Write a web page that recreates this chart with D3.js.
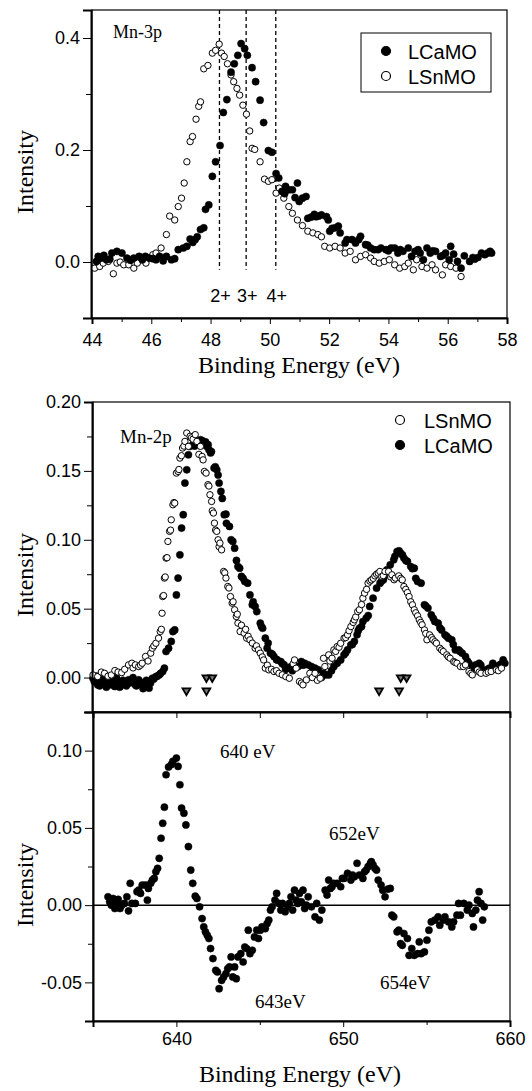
<!DOCTYPE html>
<html>
<head>
<meta charset="utf-8">
<script src="https://cdn.jsdelivr.net/npm/d3@7"></script>
<style>
body { margin:0; background:#fff; }
.tick text { font-family:"Liberation Sans", Arial, sans-serif; font-size:18px; fill:#000; }
.serif { font-family:"Liberation Serif", "Times New Roman", serif; fill:#000; }
.sans { font-family:"Liberation Sans", Arial, sans-serif; fill:#000; }
</style>
</head>
<body>
<div class="chart"></div>
<script>
// ---- Mn-3p (top panel): [binding energy eV, intensity]
const mn3pLCaMO = [[44.15,0.001],[44.21,0.010],[44.32,0.007],[44.4,0.012],[44.49,0.004],[44.6,0.005],[44.67,0.016],[44.84,0.019],[45.01,0.016],[45.18,0.007],[45.3,0.003],[45.41,0.007],[45.59,0.010],[45.70,0.004],[45.8,0.010],[45.93,0.007],[46.05,0.006],[46.16,0.004],[46.28,0.010],[46.4,0.002],[46.51,0.010],[46.68,0.004],[46.79,0.006],[46.91,0.022],[47.08,0.025],[47.20,0.028],[47.31,0.041],[47.4,0.035],[47.48,0.040],[47.55,0.045],[47.66,0.058],[47.77,0.061],[47.83,0.094],[47.94,0.102],[48.06,0.153],[48.17,0.179],[48.32,0.208],[48.43,0.267],[48.55,0.290],[48.69,0.339],[48.80,0.354],[48.92,0.369],[49.03,0.390],[49.15,0.381],[49.24,0.369],[49.40,0.347],[49.52,0.322],[49.67,0.289],[49.79,0.249],[49.95,0.199],[50.07,0.196],[50.21,0.158],[50.30,0.150],[50.41,0.126],[50.5,0.122],[50.53,0.135],[50.64,0.129],[50.76,0.129],[50.85,0.115],[50.93,0.141],[50.99,0.108],[51.10,0.114],[51.22,0.117],[51.28,0.078],[51.39,0.080],[51.5,0.085],[51.56,0.081],[51.65,0.082],[51.74,0.084],[51.91,0.081],[51.97,0.075],[52.02,0.055],[52.1,0.060],[52.20,0.061],[52.31,0.064],[52.37,0.052],[52.54,0.034],[52.6,0.040],[52.77,0.040],[52.89,0.034],[53.0,0.040],[53.06,0.046],[53.23,0.031],[53.3,0.030],[53.40,0.025],[53.52,0.022],[53.65,0.022],[53.75,0.025],[53.92,0.022],[54.0,0.020],[54.09,0.025],[54.21,0.025],[54.32,0.016],[54.4,0.022],[54.49,0.019],[54.67,0.025],[54.78,0.010],[54.90,0.019],[55.0,0.022],[55.07,0.016],[55.18,0.004],[55.30,0.025],[55.41,0.016],[55.5,0.020],[55.59,0.019],[55.76,0.010],[55.85,0.012],[55.93,0.016],[56.05,0.004],[56.10,0.028],[56.2,0.014],[56.33,0.001],[56.45,-0.011],[56.56,0.011],[56.74,0.001],[56.85,0.008],[56.91,0.005],[57.02,0.008],[57.14,0.016],[57.25,0.013],[57.35,0.016],[57.43,0.019],[57.48,0.016]];
const mn3pLSnMO = [[44.09,-0.011],[44.26,-0.008],[44.38,-0.002],[44.55,0.001],[44.72,-0.021],[44.84,-0.002],[44.95,0.000],[45.07,-0.005],[45.24,-0.005],[45.41,-0.011],[45.53,-0.002],[45.70,0.004],[45.82,-0.002],[46.05,0.013],[46.16,0.016],[46.33,0.025],[46.51,0.049],[46.62,0.082],[46.79,0.075],[46.91,0.099],[47.02,0.114],[47.11,0.141],[47.20,0.179],[47.31,0.215],[47.39,0.224],[47.51,0.255],[47.60,0.278],[47.66,0.286],[47.77,0.345],[47.91,0.351],[48.06,0.373],[48.17,0.378],[48.29,0.389],[48.37,0.373],[48.46,0.367],[48.57,0.354],[48.69,0.334],[48.78,0.322],[48.89,0.310],[48.98,0.298],[49.09,0.280],[49.21,0.264],[49.32,0.234],[49.40,0.203],[49.49,0.201],[49.67,0.179],[49.82,0.148],[49.95,0.144],[50.07,0.147],[50.21,0.123],[50.32,0.132],[50.47,0.114],[50.64,0.099],[50.76,0.087],[50.93,0.075],[51.10,0.065],[51.28,0.055],[51.45,0.052],[51.62,0.049],[51.74,0.045],[51.85,0.028],[52.02,0.025],[52.20,0.028],[52.37,0.025],[52.54,0.016],[52.71,0.019],[52.89,0.004],[53.06,0.010],[53.23,0.013],[53.40,0.007],[53.52,0.001],[53.69,-0.002],[53.86,0.001],[54.03,0.004],[54.21,-0.005],[54.38,-0.011],[54.55,-0.008],[54.67,-0.002],[54.84,-0.014],[54.95,0.004],[55.13,-0.008],[55.30,-0.011],[55.47,-0.005],[55.59,-0.014],[55.82,-0.023],[55.93,-0.005],[56.10,-0.008],[56.28,-0.011],[56.45,-0.026]];
const valenceLines = [48.3, 49.2, 50.2];
const valenceLabels = ['2+', '3+', '4+'];

// ---- Mn-2p (middle panel)
const mn2pLSnMO = [[635.0,0.0019],[635.28,0.0007],[635.5,0.004],[635.69,0.0031],[635.9,0.001],[636.10,0.0019],[636.31,0.0051],[636.5,0.004],[636.72,0.0036],[636.9,0.006],[637.13,0.0092],[637.33,0.0104],[637.4,0.007],[637.54,0.0092],[637.74,0.0080],[637.85,0.009],[637.95,0.0104],[638.15,0.0153],[638.3,0.012],[638.46,0.0177],[638.56,0.0213],[638.65,0.023],[638.77,0.0249],[638.93,0.0286],[639.03,0.0334],[639.1,0.035],[639.14,0.0467],[639.18,0.0588],[639.23,0.0595],[639.28,0.0722],[639.33,0.073],[639.38,0.0867],[639.44,0.087],[639.49,0.0988],[639.59,0.1061],[639.65,0.107],[639.69,0.1145],[639.79,0.1254],[639.85,0.127],[639.90,0.1266],[640.00,0.1484],[640.10,0.1496],[640.15,0.151],[640.21,0.1593],[640.3,0.161],[640.37,0.1666],[640.45,0.168],[640.51,0.1714],[640.62,0.1775],[640.72,0.1678],[640.82,0.1751],[640.9,0.174],[641.0,0.173],[641.13,0.1763],[641.23,0.1714],[641.35,0.162],[641.44,0.1678],[641.54,0.1605],[641.6,0.158],[641.68,0.1496],[641.78,0.1484],[641.89,0.1400],[641.95,0.139],[642.01,0.1327],[642.11,0.1278],[642.15,0.121],[642.22,0.1194],[642.28,0.1121],[642.35,0.107],[642.42,0.1061],[642.50,0.1000],[642.56,0.095],[642.61,0.0976],[642.71,0.0927],[642.83,0.0770],[642.9,0.076],[642.97,0.0722],[643.08,0.0661],[643.15,0.065],[643.24,0.0588],[643.34,0.0540],[643.4,0.055],[643.49,0.0492],[643.59,0.0443],[643.65,0.046],[643.69,0.0395],[643.82,0.0334],[643.9,0.038],[644.06,0.0322],[644.15,0.035],[644.21,0.0286],[644.3,0.030],[644.41,0.0274],[644.55,0.025],[644.72,0.0213],[644.8,0.023],[644.92,0.0201],[645.03,0.0177],[645.15,0.015],[645.23,0.0128],[645.33,0.0068],[645.45,0.009],[645.54,0.0056],[645.7,0.006],[645.85,0.0044],[646.0,0.005],[646.15,0.0031],[646.35,0.002],[646.56,0.0007],[646.77,-0.0005],[647.0,0.010],[647.08,0.0128],[647.18,0.0068],[647.38,-0.0029],[647.5,-0.004],[647.59,-0.0053],[647.79,-0.0017],[648.00,0.0031],[648.15,0.0],[648.31,0.0031],[648.45,-0.002],[648.62,-0.0005],[648.82,0.0140],[648.9,0.008],[649.13,0.0165],[649.2,0.012],[649.33,0.0140],[649.44,0.0201],[649.55,0.019],[649.64,0.0225],[649.75,0.022],[649.85,0.0249],[650.05,0.0286],[650.15,0.029],[650.26,0.0310],[650.35,0.034],[650.46,0.0370],[650.6,0.040],[650.67,0.0419],[650.75,0.044],[650.87,0.0479],[650.97,0.0492],[651.1,0.053],[651.18,0.0576],[651.28,0.0613],[651.4,0.064],[651.49,0.0685],[651.6,0.070],[651.69,0.0709],[651.8,0.072],[651.90,0.0738],[652.0,0.075],[652.10,0.0758],[652.2,0.077],[652.31,0.0734],[652.4,0.074],[652.51,0.0770],[652.72,0.0770],[652.85,0.073],[652.92,0.0746],[653.05,0.071],[653.13,0.0722],[653.33,0.0738],[653.45,0.072],[653.54,0.0709],[653.64,0.0661],[653.75,0.064],[653.85,0.0617],[653.95,0.0588],[654.05,0.055],[654.15,0.0528],[654.26,0.0492],[654.35,0.047],[654.46,0.0448],[654.56,0.0419],[654.65,0.040],[654.73,0.0383],[654.87,0.0346],[654.95,0.032],[655.02,0.0274],[655.18,0.0310],[655.3,0.029],[655.38,0.0274],[655.5,0.026],[655.59,0.0249],[655.79,0.0213],[655.9,0.020],[656.00,0.0189],[656.21,0.0165],[656.3,0.015],[656.41,0.0140],[656.62,0.0116],[656.7,0.011],[656.82,0.0104],[657.03,0.0080],[657.2,0.008],[657.33,0.0092],[657.54,0.0044],[657.65,0.003],[657.74,0.0019],[658.05,0.0056],[658.15,0.004],[658.26,0.0031],[658.56,0.0031],[658.7,0.004],[658.87,0.0044],[659.18,0.0056],[659.3,0.005],[659.49,0.0068]];
const mn2pLCaMO = [[635.0,-0.0005],[635.08,-0.0029],[635.2,0.001],[635.28,-0.0053],[635.4,-0.006],[635.49,-0.0017],[635.6,-0.001],[635.69,-0.0036],[635.8,-0.007],[635.90,-0.0041],[636.0,-0.002],[636.10,-0.0053],[636.2,-0.004],[636.31,-0.0065],[636.4,0.0],[636.51,-0.0029],[636.6,-0.007],[636.72,-0.0053],[636.8,-0.002],[636.92,-0.0041],[637.0,-0.006],[637.13,-0.0017],[637.2,-0.004],[637.33,-0.0029],[637.4,0.0],[637.54,-0.0053],[637.6,-0.006],[637.74,-0.0017],[637.8,-0.003],[637.95,-0.0053],[638.0,-0.008],[638.15,-0.0041],[638.2,-0.002],[638.36,-0.0077],[638.45,-0.004],[638.56,-0.0005],[638.65,-0.001],[638.77,0.0007],[638.85,0.001],[638.97,0.0019],[639.05,0.003],[639.18,0.0044],[639.28,0.0068],[639.38,0.0189],[639.53,0.0213],[639.69,0.0262],[639.79,0.0334],[639.90,0.0346],[640.00,0.0600],[640.10,0.0722],[640.21,0.0891],[640.31,0.1085],[640.41,0.1182],[640.51,0.1412],[640.62,0.1508],[640.72,0.1617],[640.82,0.1678],[641.03,0.1702],[641.1,0.168],[641.23,0.1714],[641.35,0.170],[641.44,0.1726],[641.55,0.172],[641.64,0.1697],[641.75,0.171],[641.81,0.1678],[641.9,0.169],[641.95,0.1654],[642.05,0.1630],[642.1,0.164],[642.26,0.1521],[642.33,0.153],[642.42,0.1508],[642.5,0.147],[642.56,0.1412],[642.67,0.1351],[642.75,0.130],[642.87,0.1182],[642.97,0.1186],[643.0,0.112],[643.18,0.1097],[643.28,0.1000],[643.38,0.0988],[643.49,0.0939],[643.6,0.085],[643.69,0.0806],[643.79,0.0794],[643.90,0.0734],[644.0,0.072],[644.10,0.0697],[644.27,0.0685],[644.41,0.0600],[644.55,0.0528],[644.6,0.055],[644.72,0.0516],[644.82,0.0479],[645.03,0.0395],[645.1,0.037],[645.17,0.0358],[645.33,0.0286],[645.44,0.0213],[645.5,0.025],[645.64,0.0177],[645.75,0.017],[645.85,0.0153],[646.0,0.013],[646.05,0.0128],[646.26,0.0116],[646.35,0.010],[646.46,0.0092],[646.55,0.006],[646.67,0.0068],[646.87,0.0080],[646.95,0.005],[647.18,0.0080],[647.3,0.008],[647.49,0.0116],[647.6,0.009],[647.69,0.0104],[647.90,0.0092],[648.10,0.0080],[648.2,0.004],[648.31,0.0068],[648.51,0.0056],[648.7,0.0],[648.82,0.0031],[648.95,0.002],[649.13,0.0019],[649.3,0.005],[649.44,0.0080],[649.64,0.0104],[649.85,0.0128],[650.05,0.0165],[650.15,0.018],[650.26,0.0201],[650.46,0.0237],[650.55,0.024],[650.67,0.0262],[650.83,0.0310],[650.9,0.034],[650.97,0.0358],[651.1,0.037],[651.18,0.0407],[651.38,0.0431],[651.5,0.045],[651.59,0.0516],[651.79,0.0576],[652.00,0.0649],[652.21,0.0685],[652.3,0.070],[652.41,0.0709],[652.5,0.074],[652.62,0.0782],[652.82,0.0818],[653.03,0.0855],[653.1,0.088],[653.23,0.0915],[653.35,0.092],[653.44,0.0903],[653.55,0.089],[653.64,0.0867],[653.75,0.085],[653.85,0.0843],[654.05,0.0806],[654.15,0.079],[654.26,0.0794],[654.35,0.072],[654.46,0.0697],[654.67,0.0685],[654.87,0.0528],[654.95,0.052],[655.08,0.0504],[655.28,0.0455],[655.4,0.043],[655.49,0.0407],[655.69,0.0395],[655.8,0.036],[655.90,0.0346],[656.10,0.0310],[656.2,0.030],[656.31,0.0286],[656.51,0.0274],[656.6,0.024],[656.72,0.0201],[656.92,0.0201],[657.0,0.019],[657.13,0.0177],[657.33,0.0153],[657.45,0.012],[657.54,0.0104],[657.74,0.0080],[657.85,0.007],[657.95,0.0092],[658.15,0.0104],[658.25,0.009],[658.36,0.0056],[658.56,0.0044],[658.65,0.006],[658.77,0.0068],[658.97,0.0104],[659.1,0.007],[659.18,0.0080],[659.38,0.0092],[659.5,0.010],[659.59,0.0128],[659.69,0.0104]];
const markerUpper = [641.8, 642.15, 653.45, 653.8];
const markerLower = [640.6, 641.8, 652.15, 653.35];

// ---- difference spectrum (bottom panel)
const mn2pDiff = [[635.90,0.0054],[636.00,0.0022],[636.10,0.0000],[636.21,0.0043],[636.31,-0.0022],[636.41,0.0011],[636.51,0.0037],[636.62,-0.0022],[636.72,0.0000],[636.88,0.0011],[637.03,0.0054],[637.13,-0.0037],[637.23,0.0141],[637.33,0.0011],[637.54,0.0011],[637.64,0.0087],[637.74,0.0097],[637.85,0.0076],[637.95,0.0130],[638.15,0.0130],[638.26,0.0032],[638.32,0.0108],[638.46,0.0141],[638.56,0.0162],[638.67,0.0173],[638.77,0.0216],[638.87,0.0238],[638.97,0.0303],[639.08,0.0433],[639.18,0.0530],[639.28,0.0634],[639.38,0.0844],[639.53,0.0894],[639.69,0.0909],[639.79,0.0931],[640.00,0.0952],[640.10,0.0898],[640.21,0.0779],[640.31,0.0628],[640.45,0.0595],[640.57,0.0519],[640.72,0.0379],[640.86,0.0227],[640.98,0.0141],[641.13,0.0058],[641.23,0.0043],[641.39,-0.0011],[641.54,-0.0087],[641.64,-0.0141],[641.74,-0.0173],[641.85,-0.0195],[641.95,-0.0216],[642.05,-0.0281],[642.19,-0.0346],[642.36,-0.0422],[642.46,-0.0433],[642.56,-0.0541],[642.71,-0.0487],[642.83,-0.0465],[642.97,-0.0444],[643.08,-0.0411],[643.18,-0.0400],[643.28,-0.0335],[643.38,-0.0465],[643.49,-0.0400],[643.59,-0.0476],[643.69,-0.0335],[643.86,-0.0314],[644.00,-0.0368],[644.10,-0.0271],[644.21,-0.0281],[644.31,-0.0162],[644.41,-0.0314],[644.55,-0.0292],[644.68,-0.0206],[644.82,-0.0162],[644.92,-0.0216],[645.03,-0.0162],[645.13,-0.0141],[645.33,-0.0152],[645.44,-0.0119],[645.54,-0.0097],[645.64,-0.0032],[645.74,-0.0011],[645.91,0.0032],[646.01,0.0076],[646.15,0.0011],[646.26,-0.0032],[646.36,0.0011],[646.52,-0.0043],[646.67,-0.0011],[646.77,0.0011],[646.87,0.0054],[646.97,-0.0032],[647.08,0.0097],[647.18,0.0032],[647.28,0.0011],[647.38,0.0076],[647.49,0.0022],[647.59,0.0097],[647.69,-0.0022],[647.79,0.0000],[647.90,0.0054],[648.10,-0.0011],[648.31,-0.0076],[648.41,0.0011],[648.57,-0.0097],[648.72,-0.0032],[648.92,0.0097],[649.03,0.0065],[649.13,0.0162],[649.23,0.0108],[649.33,0.0119],[649.44,0.0141],[649.64,0.0141],[649.85,0.0119],[649.95,0.0173],[650.05,0.0173],[650.26,0.0206],[650.46,0.0162],[650.56,0.0195],[650.67,0.0184],[650.83,0.0271],[650.97,0.0195],[651.18,0.0173],[651.28,0.0216],[651.38,0.0227],[651.49,0.0249],[651.63,0.0271],[651.69,0.0281],[651.79,0.0260],[651.90,0.0238],[652.00,0.0227],[652.10,0.0162],[652.27,0.0130],[652.37,0.0097],[652.51,0.0054],[652.68,0.0104],[652.82,0.0108],[652.92,-0.0065],[653.03,-0.0076],[653.23,-0.0173],[653.33,-0.0162],[653.44,-0.0249],[653.54,-0.0260],[653.64,-0.0184],[653.85,-0.0216],[653.95,-0.0325],[654.11,-0.0281],[654.26,-0.0325],[654.46,-0.0314],[654.56,-0.0238],[654.67,-0.0314],[654.87,-0.0303],[655.02,-0.0227],[655.14,-0.0162],[655.28,-0.0108],[655.49,-0.0097],[655.69,-0.0076],[655.79,-0.0130],[656.00,-0.0097],[656.10,-0.0076],[656.31,-0.0108],[656.51,-0.0141],[656.62,-0.0108],[656.82,-0.0065],[656.92,0.0011],[657.03,-0.0065],[657.23,0.0011],[657.44,-0.0032],[657.54,0.0000],[657.74,-0.0054],[657.81,-0.0141],[657.95,-0.0032],[658.05,0.0032],[658.15,0.0087],[658.26,0.0011],[658.36,-0.0097],[658.46,-0.0011]];
const peakNotes = [['640 eV', 220, 758], ['652eV', 329, 840], ['643eV', 255, 1008], ['654eV', 380, 989]];

const width = 532, height = 1091;

const svg = d3.select('.chart').append('svg')
    .attr('width', width)
    .attr('height', height);

// scales for each panel
const x1 = d3.scaleLinear().domain([44, 58]).range([92, 507]);
const y1 = d3.scaleLinear().domain([-0.1, 0.45]).range([318, 10]);
const x2 = d3.scaleLinear().domain([635, 660]).range([93, 510]);
const y2 = d3.scaleLinear().domain([-0.025, 0.2]).range([712, 402]);
const y3 = d3.scaleLinear().domain([-0.075, 0.125]).range([1021, 712]);

function frame(x, y) {
    svg.append('rect')
        .attr('x', x.range()[0]).attr('y', y.range()[1])
        .attr('width', x.range()[1] - x.range()[0])
        .attr('height', y.range()[0] - y.range()[1])
        .attr('fill', 'none').attr('stroke', '#000').attr('stroke-width', 1.2);
}

function leftAxis(y, x0, major, minor, fmt) {
    svg.append('g')
        .attr('transform', `translate(${x0},0)`)
        .call(d3.axisLeft(y).tickValues(minor).tickSize(5).tickFormat(''))
        .call(g => g.select('.domain').remove());
    svg.append('g')
        .attr('transform', `translate(${x0},0)`)
        .call(d3.axisLeft(y).tickValues(major).tickSize(8).tickPadding(3).tickFormat(fmt))
        .call(g => g.select('.domain').attr('stroke-width', 2));
}

function bottomAxis(x, y0, major, minor, pad) {
    svg.append('g')
        .attr('transform', `translate(0,${y0})`)
        .call(d3.axisBottom(x).tickValues(minor).tickSize(4).tickFormat(''))
        .call(g => g.select('.domain').remove());
    svg.append('g')
        .attr('transform', `translate(0,${y0})`)
        .call(d3.axisBottom(x).tickValues(major).tickSize(6).tickPadding(pad).tickFormat(d => d))
        .call(g => g.select('.domain').attr('stroke-width', 2));
}

function yTitle(cy) {
    svg.append('text')
        .attr('class', 'serif')
        .attr('transform', `translate(33,${cy}) rotate(-90)`)
        .attr('text-anchor', 'middle')
        .attr('font-size', 24)
        .text('Intensity');
}

function dots(data, x, y, open) {
    svg.append('g').selectAll('circle')
        .data(data)
        .enter()
        .append('circle')
        .attr('cx', d => x(d[0]))
        .attr('cy', d => y(d[1]))
        .attr('r', open ? 3.2 : 3.6)
        .attr('fill', open ? '#fff' : '#000')
        .attr('stroke', '#000')
        .attr('stroke-width', open ? 1 : 0.5);
}

// ================= panel 1 : Mn-3p
frame(x1, y1);
svg.selectAll('.vline')
    .data(valenceLines)
    .enter()
    .append('line')
    .attr('x1', d => x1(d)).attr('x2', d => x1(d))
    .attr('y1', y1(0.45)).attr('y2', y1(-0.014))
    .attr('stroke', '#000').attr('stroke-width', 1.3)
    .attr('stroke-dasharray', '4,3');
svg.selectAll('.vlab')
    .data(valenceLabels)
    .enter()
    .append('text')
    .attr('class', 'sans')
    .attr('x', (d, i) => x1(valenceLines[i]) + 1)
    .attr('y', 302)
    .attr('text-anchor', 'middle')
    .attr('font-size', 18)
    .text(d => d);

dots(mn3pLSnMO, x1, y1, true);
dots(mn3pLCaMO, x1, y1, false);

leftAxis(y1, 91, [0, 0.2, 0.4], [0.1, 0.3], d => d.toFixed(1));
bottomAxis(x1, 318, d3.range(44, 59, 2), d3.range(45, 58, 2), 9);

svg.append('text').attr('class', 'serif')
    .attr('x', 113).attr('y', 38).attr('font-size', 18).text('Mn-3p');

// legend with box
svg.append('rect')
    .attr('x', 361).attr('y', 33).attr('width', 130).attr('height', 59)
    .attr('fill', '#fff').attr('stroke', '#000').attr('stroke-width', 1);
const leg1 = [['LCaMO', false, 51], ['LSnMO', true, 76]];
leg1.forEach(l => {
    svg.append('circle').attr('cx', 386).attr('cy', l[2]).attr('r', 4.5)
        .attr('fill', l[1] ? '#fff' : '#000').attr('stroke', '#000').attr('stroke-width', 1.2);
    svg.append('text').attr('class', 'sans').attr('x', 408).attr('y', l[2] + 7.5)
        .attr('font-size', 20).text(l[0]);
});

svg.append('text').attr('class', 'serif')
    .attr('x', 299).attr('y', 373).attr('text-anchor', 'middle')
    .attr('font-size', 24).text('Binding Energy (eV)');
yTitle(172);

// ================= panel 2 : Mn-2p
frame(x2, y2);
dots(mn2pLCaMO, x2, y2, false);
dots(mn2pLSnMO, x2, y2, true);

const tri = d3.symbol().type(d3.symbolTriangle).size(26);
[[markerUpper, 0.0], [markerLower, -0.0095]].forEach(row => {
    svg.append('g').selectAll('path')
        .data(row[0])
        .enter()
        .append('path')
        .attr('d', tri)
        .attr('transform', d => `translate(${x2(d)},${y2(row[1])}) rotate(180)`)
        .attr('fill', '#777').attr('stroke', '#000').attr('stroke-width', 1.8);
});

leftAxis(y2, 92, [0, 0.05, 0.1, 0.15, 0.2], [0.025, 0.075, 0.125, 0.175], d => d.toFixed(2));

svg.append('text').attr('class', 'serif')
    .attr('x', 120).attr('y', 443).attr('font-size', 19).text('Mn-2p');
const leg2 = [['LSnMO', true, 420], ['LCaMO', false, 445]];
leg2.forEach(l => {
    svg.append('circle').attr('cx', 400).attr('cy', l[2]).attr('r', 4.5)
        .attr('fill', l[1] ? '#fff' : '#000').attr('stroke', '#000').attr('stroke-width', 1.2);
    svg.append('text').attr('class', 'sans').attr('x', 424).attr('y', l[2] + 7.5)
        .attr('font-size', 20).text(l[0]);
});
yTitle(575);

// ================= panel 3 : difference
frame(x2, y3);
svg.append('line')
    .attr('x1', x2(635)).attr('x2', x2(660))
    .attr('y1', y3(0)).attr('y2', y3(0))
    .attr('stroke', '#000').attr('stroke-width', 1.5);
dots(mn2pDiff, x2, y3, false);

// ticks hanging from the shared top edge
svg.append('g')
    .attr('transform', `translate(0,712)`)
    .call(d3.axisBottom(x2).tickValues(d3.range(640, 660, 5)).tickSize(6).tickFormat(''))
    .call(g => g.select('.domain').attr('stroke-width', 2));

leftAxis(y3, 93, [-0.05, 0, 0.05, 0.1], [-0.025, 0.025, 0.075], d => d.toFixed(2));
bottomAxis(x2, 1021, [640, 650, 660], [635, 645, 655], 5);

peakNotes.forEach(n => {
    svg.append('text').attr('class', 'serif')
        .attr('x', n[1]).attr('y', n[2]).attr('font-size', 19).text(n[0]);
});

svg.append('text').attr('class', 'serif')
    .attr('x', 300).attr('y', 1082).attr('text-anchor', 'middle')
    .attr('font-size', 24).text('Binding Energy (eV)');
yTitle(885);
</script>
</body>
</html>
